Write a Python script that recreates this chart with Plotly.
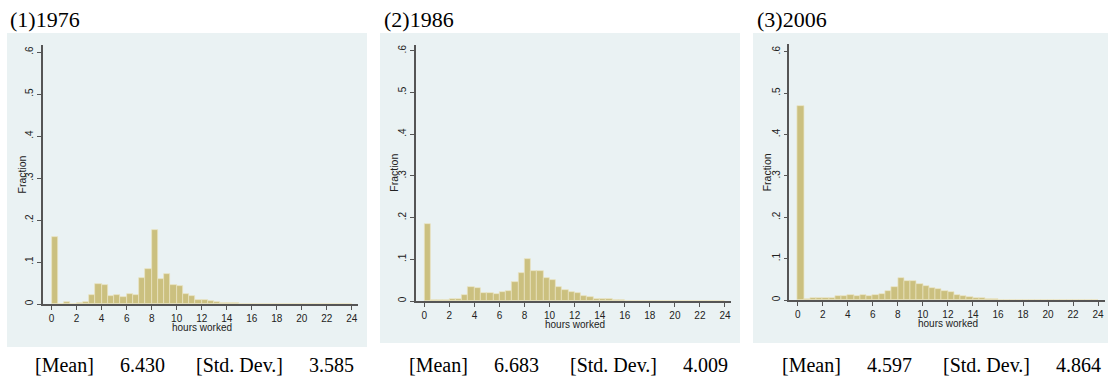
import plotly.graph_objects as go

# ---------------- data ----------------
titles = ["(1)1976", "(2)1986", "(3)2006"]
means = ["6.430", "6.683", "4.597"]
std_devs = ["3.585", "4.009", "4.864"]

# histogram bins: width 0.5 hour, left edges 0.0 ... 23.5
bin_left = [i * 0.5 for i in range(48)]

frac_1976 = [0.159, 0.000, 0.004, 0.001, 0.003, 0.005, 0.022, 0.048, 0.046, 0.020,
             0.021, 0.016, 0.023, 0.021, 0.063, 0.084, 0.176, 0.059, 0.072, 0.045,
             0.043, 0.025, 0.019, 0.010, 0.009, 0.006, 0.004, 0.003, 0.003, 0.003,
             0.001, 0.001, 0.0005, 0.0005, 0.0005, 0.0005, 0.0003, 0.0003, 0.0003, 0.0003,
             0.0002, 0.0002, 0.0002, 0.0002, 0.0002, 0.0002, 0.0002, 0.0002]
frac_1986 = [0.185, 0.002, 0.003, 0.003, 0.004, 0.004, 0.014, 0.033, 0.031, 0.019,
             0.018, 0.016, 0.022, 0.023, 0.046, 0.067, 0.100, 0.073, 0.072, 0.055,
             0.051, 0.034, 0.027, 0.022, 0.018, 0.013, 0.010, 0.006, 0.006, 0.004,
             0.002, 0.002, 0.001, 0.001, 0.001, 0.001, 0.0008, 0.0008, 0.0006, 0.0006,
             0.0005, 0.0005, 0.0005, 0.0005, 0.0005, 0.0005, 0.0005, 0.0005]
frac_2006 = [0.469, 0.003, 0.005, 0.006, 0.006, 0.006, 0.009, 0.009, 0.011, 0.010,
             0.012, 0.010, 0.012, 0.014, 0.022, 0.031, 0.052, 0.047, 0.047, 0.038,
             0.035, 0.030, 0.026, 0.022, 0.019, 0.013, 0.010, 0.007, 0.006, 0.005,
             0.003, 0.002, 0.001, 0.001, 0.001, 0.001, 0.0008, 0.0008, 0.0006, 0.0006,
             0.0005, 0.0005, 0.0005, 0.0005, 0.0005, 0.0005, 0.0005, 0.0005]
series = [frac_1976, frac_1986, frac_2006]

x_ticks = list(range(0, 25, 2))
y_ticks = [0, 0.1, 0.2, 0.3, 0.4, 0.5, 0.6]
y_ticktext = ["0", ".1", ".2", ".3", ".4", ".5", ".6"]

# ---------------- layout geometry (pixels) ----------------
W, H = 1110, 380
# (plot left, plot right, plot top, plot bottom, x-range, y-top)
plots = [
    (43.0, 358.0, 45.0, 304.0, (-0.69, 24.5), 0.6167),
    (415.7, 731.0, 45.0, 301.0, (-0.69, 24.48), 0.6137),
    (789.3, 1105.0, 44.0, 300.0, (-0.67, 24.55), 0.6186),
]
# panel background boxes (x0, y0, x1, y1)
boxes = [(7, 33, 367, 347), (380, 33, 740, 343), (753, 33, 1108, 343)]
title_x = [8, 382, 755]
stats_x = [33, 406.5, 780]

PANEL_BG = "#EAF2F3"
BAR = "#CBC07F"
BAR_LINE = "#E9E4C2"
AXIS = "#555555"
SANS = "Liberation Sans, Arial, sans-serif"
SERIF = "Liberation Serif, Times New Roman, serif"


def px(x):
    return x / W


def py(y):
    return 1 - y / H


fig = go.Figure()
shapes = []
annotations = []

for i, vals in enumerate(series):
    n = "" if i == 0 else str(i + 1)
    l, r, t, b, xr, ytop = plots[i]
    fig.add_trace(go.Bar(
        x=bin_left, y=vals, width=0.5, offset=0,
        marker=dict(color=BAR, line=dict(color=BAR_LINE, width=0.7)),
        xaxis="x" + n, yaxis="y" + n, showlegend=False, hoverinfo="x+y",
    ))
    fig.layout["xaxis" + n] = dict(
        domain=[px(l), px(r)], anchor="y" + n, range=list(xr),
        tickvals=x_ticks, ticks="outside", ticklen=4, tickwidth=1.2, tickcolor=AXIS,
        showline=True, linecolor=AXIS, linewidth=1.5, showgrid=False, zeroline=False,
        tickfont=dict(family=SANS, size=10, color="#222222"), fixedrange=True,
    )
    fig.layout["yaxis" + n] = dict(
        domain=[py(b), py(t)], anchor="x" + n, range=[0, ytop],
        tickvals=y_ticks, ticktext=y_ticktext, tickangle=-90,
        ticks="outside", ticklen=4, tickwidth=1.2, tickcolor=AXIS,
        showline=True, linecolor=AXIS, linewidth=1.5,
        showgrid=True, gridcolor=PANEL_BG, gridwidth=1.3, zeroline=False,
        tickfont=dict(family=SANS, size=10, color="#222222"), fixedrange=True,
    )
    x0, y0, x1, y1 = boxes[i]
    shapes.append(dict(type="rect", xref="paper", yref="paper",
                       x0=px(x0), x1=px(x1), y0=py(y1), y1=py(y0),
                       fillcolor=PANEL_BG, line=dict(width=0), layer="below"))
    # axis titles
    annotations.append(dict(text="Fraction", xref="paper", yref="paper",
                            x=px(l - 22), y=py((t + b) / 2), textangle=-90,
                            showarrow=False, xanchor="center", yanchor="middle",
                            font=dict(family=SANS, size=10.5, color="#222222")))
    x_zero = l + (0 - xr[0]) / (xr[1] - xr[0]) * (r - l)
    x_24 = l + (24 - xr[0]) / (xr[1] - xr[0]) * (r - l)
    annotations.append(dict(text="hours worked", xref="paper", yref="paper",
                            x=px((x_zero + x_24) / 2), y=py(b + 23),
                            showarrow=False, xanchor="center", yanchor="middle",
                            font=dict(family=SANS, size=10, color="#222222")))
    # panel title
    annotations.append(dict(text=titles[i], xref="paper", yref="paper",
                            x=px(title_x[i]), y=py(20), showarrow=False,
                            xanchor="left", yanchor="middle",
                            font=dict(family=SERIF, size=22, color="#000000")))
    # summary stats line
    sx = stats_x[i]
    for txt, off in [("[Mean]", 0), (means[i], 85), ("[Std. Dev.]", 161), (std_devs[i], 274)]:
        annotations.append(dict(text=txt, xref="paper", yref="paper",
                                x=px(sx + off), y=py(365), showarrow=False,
                                xanchor="left", yanchor="middle",
                                font=dict(family=SERIF, size=20, color="#000000")))

fig.update_layout(
    width=W, height=H, margin=dict(l=0, r=0, t=0, b=0),
    paper_bgcolor="white", plot_bgcolor="white",
    shapes=shapes, annotations=annotations, bargap=0,
)

fig.write_html(
    "out.html",
    config={"displayModeBar": False},
    post_script="document.body.style.margin='0';document.body.style.overflow='hidden';",
)
